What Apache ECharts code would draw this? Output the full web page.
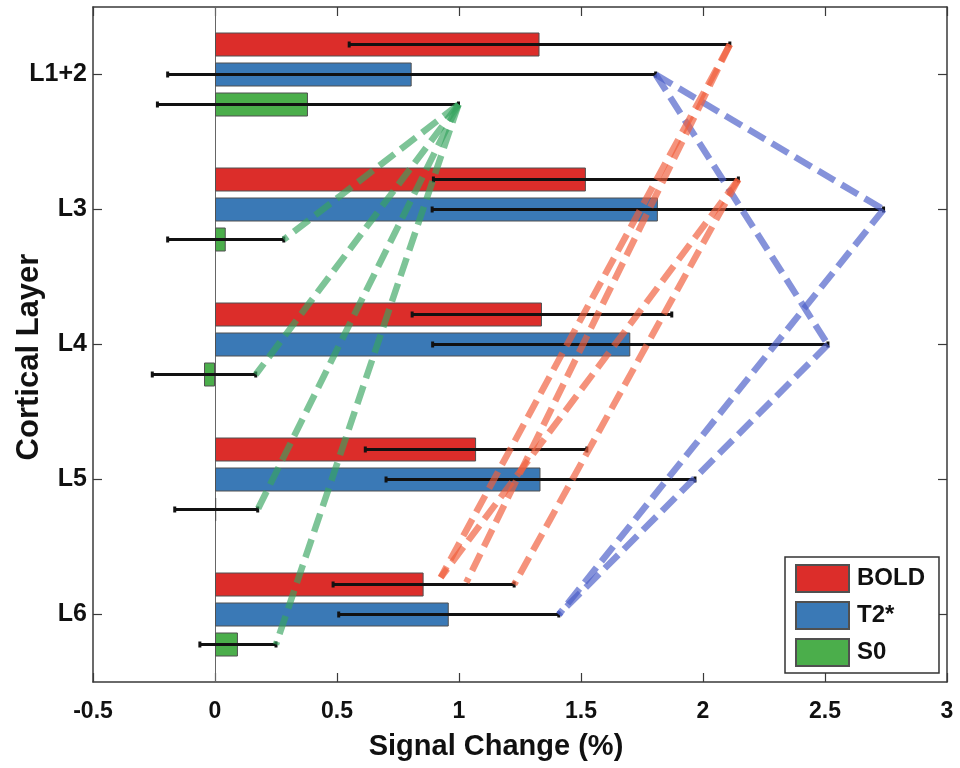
<!DOCTYPE html>
<html><head><meta charset="utf-8">
<script src="https://cdn.jsdelivr.net/npm/echarts@6/dist/echarts.min.js"></script>
<style>html,body{margin:0;padding:0;background:#fff}#c{width:960px;height:768px}</style>
</head><body><div id="c"></div>
<script>
// ---- data ----
const layers = ['L1+2', 'L3', 'L4', 'L5', 'L6'];
const seriesNames = ['BOLD', 'T2*', 'S0'];
const boldValues = [1.33, 1.52, 1.34, 1.07, 0.855];
const boldErrors = [0.78, 0.625, 0.532, 0.454, 0.371];
const t2Values = [0.806, 1.815, 1.702, 1.334, 0.958];
const t2Errors = [1.0, 0.925, 0.81, 0.633, 0.451];
const s0Values = [0.381, 0.044, -0.045, 0.005, 0.094];
const s0Errors = [0.617, 0.238, 0.212, 0.17, 0.156];
const xMin = -0.5, xMax = 3, xStep = 0.5;
// comparison links between upper error-bar ends: [fromLayer, toLayer]
const s0Links = [[0, 1], [0, 2], [0, 3], [0, 4]];
const t2Links = [[0, 1], [0, 2], [2, 4], [1, 4]];
// BOLD links: [fromLayer, toX, toRow]  (toRow in layer units)
const boldLinks = [[0, 0.925, 3.726], [0, 1.03, 3.763], [1, 0.925, 3.726], [1, 1.226, 3.778]];

// ---- styling ----
const FONT = '"Liberation Sans", Arial, Helvetica, sans-serif';
const barColors = ['#dc2d2a', '#3a79b6', '#4bae4b'];
const linkColors = ['rgba(240,95,60,0.68)', 'rgba(75,95,200,0.68)', 'rgba(55,165,95,0.65)'];
const rowOffset = [-30 / 135, 0, 30 / 135];
const vals = [boldValues, t2Values, s0Values];
const errs = [boldErrors, t2Errors, s0Errors];

function upper(si, li) { return vals[si][li] + errs[si][li]; }
function row(si, li) { return li + rowOffset[si]; }

const errData = vals.map((v, si) => v.map((x, li) => [x - errs[si][li], x + errs[si][li], row(si, li)]));

const linkData = [
  boldLinks.map(l => [upper(0, l[0]), row(0, l[0]), l[1], l[2]]),
  t2Links.map(l => [upper(1, l[0]), row(1, l[0]), upper(1, l[1]), row(1, l[1])]),
  s0Links.map(l => [upper(2, l[0]), row(2, l[0]), upper(2, l[1]), row(2, l[1])])
];

function errRender(params, api) {
  const lo = api.coord([api.value(0), api.value(2)]);
  const hi = api.coord([api.value(1), api.value(2)]);
  const c = 3, st = { stroke: '#111', lineWidth: 3 };
  return { type: 'group', children: [
    { type: 'line', shape: { x1: lo[0], y1: lo[1], x2: hi[0], y2: hi[1] }, style: st },
    { type: 'line', shape: { x1: lo[0], y1: lo[1] - c, x2: lo[0], y2: lo[1] + c }, style: st },
    { type: 'line', shape: { x1: hi[0], y1: hi[1] - c, x2: hi[0], y2: hi[1] + c }, style: st }
  ]};
}
function linkRender(color) {
  return function (params, api) {
    const a = api.coord([api.value(0), api.value(1)]);
    const b = api.coord([api.value(2), api.value(3)]);
    return { type: 'line', shape: { x1: a[0], y1: a[1], x2: b[0], y2: b[1] },
      style: { stroke: color, lineWidth: 6.5, lineDash: [19, 8], lineCap: 'butt' } };
  };
}

const frame = { show: true, onZero: false, lineStyle: { color: '#3a3a3a', width: 1.5 } };
const tick = { show: true, inside: true, length: 9, lineStyle: { color: '#3a3a3a', width: 1.2 } };

const series = [];
seriesNames.forEach((n, si) => {
  series.push({
    name: n, type: 'bar', xAxisIndex: 0, yAxisIndex: 0, data: vals[si],
    barWidth: 24, barGap: '25%', z: 2,
    itemStyle: { color: barColors[si], borderColor: '#505050', borderWidth: 1 }
  });
});
seriesNames.forEach((n, si) => {
  series.push({
    type: 'custom', xAxisIndex: 0, yAxisIndex: 2, data: errData[si], z: 4,
    encode: { x: [0, 1], y: 2 }, renderItem: errRender, silent: true,
    markLine: si === 0 ? { symbol: 'none', silent: true, label: { show: false },
      lineStyle: { color: '#666', width: 1, type: 'solid' }, data: [{ xAxis: 0 }], z: 1 } : undefined
  });
});
[2, 1, 0].forEach(si => {
  series.push({
    type: 'custom', xAxisIndex: 0, yAxisIndex: 2, data: linkData[si], z: 6,
    encode: { x: [0, 2], y: [1, 3] }, renderItem: linkRender(linkColors[si]), silent: true
  });
});

const chart = echarts.init(document.getElementById('c'), null, { renderer: 'canvas' });
chart.setOption({
  animation: false,
  backgroundColor: '#fff',
  textStyle: { fontFamily: FONT },
  grid: { left: 93, right: 13, top: 7, bottom: 86, containLabel: false, outerBoundsMode: 'none' },
  legend: {
    data: seriesNames, orient: 'vertical', left: 785, top: 557,
    itemWidth: 53, itemHeight: 27, itemGap: 8, icon: 'rect',
    padding: [7, 14, 6, 10], borderColor: '#333', borderWidth: 1.5, backgroundColor: '#fff',
    textStyle: { fontFamily: FONT, fontWeight: 'bold', fontSize: 24, color: '#111', padding: [0, 0, 0, 3] },
    z: 10
  },
  xAxis: [
    { type: 'value', min: xMin, max: xMax, interval: xStep, position: 'bottom',
      axisLine: frame, axisTick: tick, splitLine: { show: false },
      axisLabel: { margin: 18, fontSize: 23, fontWeight: 'bold', color: '#111', fontFamily: FONT },
      name: 'Signal Change (%)', nameLocation: 'middle', nameGap: 50, nameMoveOverlap: false,
      nameTextStyle: { fontSize: 29, fontWeight: 'bold', color: '#111', fontFamily: FONT, padding: [0, 48, 0, 0] } },
    { type: 'value', min: xMin, max: xMax, interval: xStep, position: 'top',
      axisLine: frame, axisTick: tick, splitLine: { show: false }, axisLabel: { show: false } }
  ],
  yAxis: [
    { type: 'category', data: layers, inverse: true, position: 'left',
      axisLine: frame, axisTick: { ...tick, alignWithLabel: true },
      axisLabel: { margin: 6, fontSize: 25, fontWeight: 'bold', color: '#111', fontFamily: FONT },
      name: 'Cortical Layer', nameLocation: 'middle', nameGap: 48, nameRotate: 90, nameMoveOverlap: false,
      nameTextStyle: { fontSize: 31, fontWeight: 'bold', color: '#111', fontFamily: FONT, padding: [0, 25, 0, 0] } },
    { type: 'category', data: layers, inverse: true, position: 'right',
      axisLine: frame, axisTick: { ...tick, alignWithLabel: true }, axisLabel: { show: false } },
    { type: 'value', min: -0.5, max: 4.5, inverse: true, show: false }
  ],
  series: series
});
</script></body></html>
